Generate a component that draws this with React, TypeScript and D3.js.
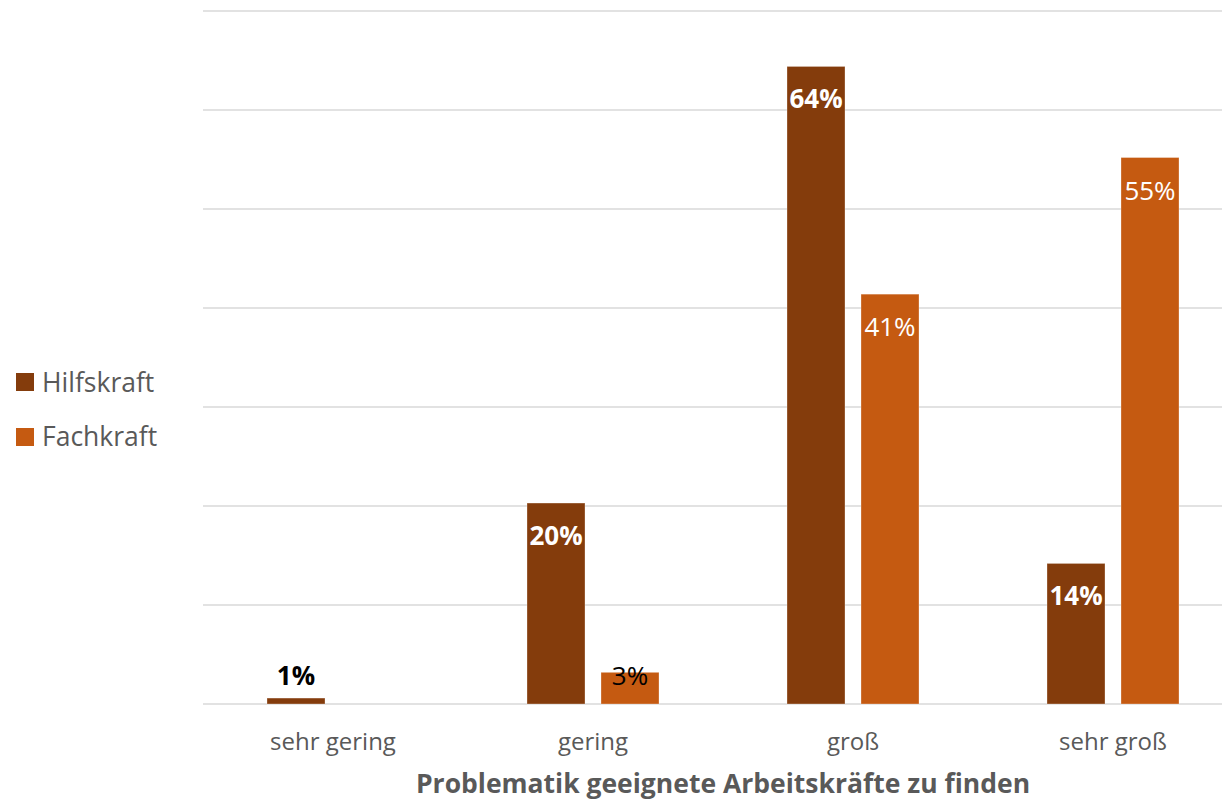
import React from "react";
import * as d3 from "d3";

const categories = ["sehr gering", "gering", "groß", "sehr groß"];
const seriesNames = ["Hilfskraft", "Fachkraft"];
const hilfskraft = [0.6, 20.3, 64.4, 14.2];
const fachkraft = [0, 3.2, 41.4, 55.2];
const colors = ["#843C0C", "#C55A11"];
const gridTicks = [0, 10, 20, 30, 40, 50, 60, 70];
const axisTitle = "Problematik geeignete Arbeitskräfte zu finden";

const W = 1222;
const H = 801;
const FONT = "'Open Sans', 'Noto Sans', sans-serif";

export default function App() {
  const x = d3.scaleBand<string>().domain(categories).range([203, 1243]).paddingInner(0).paddingOuter(0);
  const y = d3.scaleLinear().domain([0, 70]).range([704, 11]);
  const barW = 58;
  const gap = 16;
  const series = [hilfskraft, fachkraft];

  return (
    <svg width={W} height={H} style={{ position: "absolute", left: 0, top: 0, background: "#fff" }}>
      {gridTicks.map((t) => (
        <line key={t} x1={203} x2={W} y1={y(t)} y2={y(t)} stroke="#d9d9d9" strokeWidth={1.5} />
      ))}
      {series.map((vals, si) =>
        vals.map((v, ci) => {
          if (v <= 0) return null;
          const cx = (x(categories[ci]) as number) + x.bandwidth() / 2;
          const bx = si === 0 ? cx - gap / 2 - barW : cx + gap / 2;
          const top = y(v);
          const h = y(0) - top;
          const small = h < 50;
          const ly = small ? y(0) - 19 : top + 42;
          return (
            <g key={`${si}-${ci}`}>
              <rect x={bx} y={top} width={barW} height={h} fill={colors[si]} stroke="#fff" strokeOpacity={0.4} strokeWidth={0.75} />
              <text
                x={bx + barW / 2}
                y={ly}
                textAnchor="middle"
                fontFamily={FONT}
                fontSize={26}
                fontWeight={si === 0 ? 700 : 400}
                fill={small ? "#000" : "#fff"}
              >
                {`${Math.round(v)}%`}
              </text>
            </g>
          );
        })
      )}
      {categories.map((c) => (
        <text
          key={c}
          x={(x(c) as number) + x.bandwidth() / 2}
          y={750}
          textAnchor="middle"
          fontFamily={FONT}
          fontSize={24}
          fill="#595959"
        >
          {c}
        </text>
      ))}
      <text x={723} y={793} textAnchor="middle" fontFamily={FONT} fontSize={26.5} fontWeight={700} fill="#595959">
        {axisTitle}
      </text>
      {seriesNames.map((n, i) => (
        <g key={n}>
          <rect x={16} y={373 + i * 55} width={18} height={18} fill={colors[i]} />
          <text x={42} y={392 + i * 54} fontFamily={FONT} fontSize={26.5} fill="#595959">
            {n}
          </text>
        </g>
      ))}
    </svg>
  );
}
